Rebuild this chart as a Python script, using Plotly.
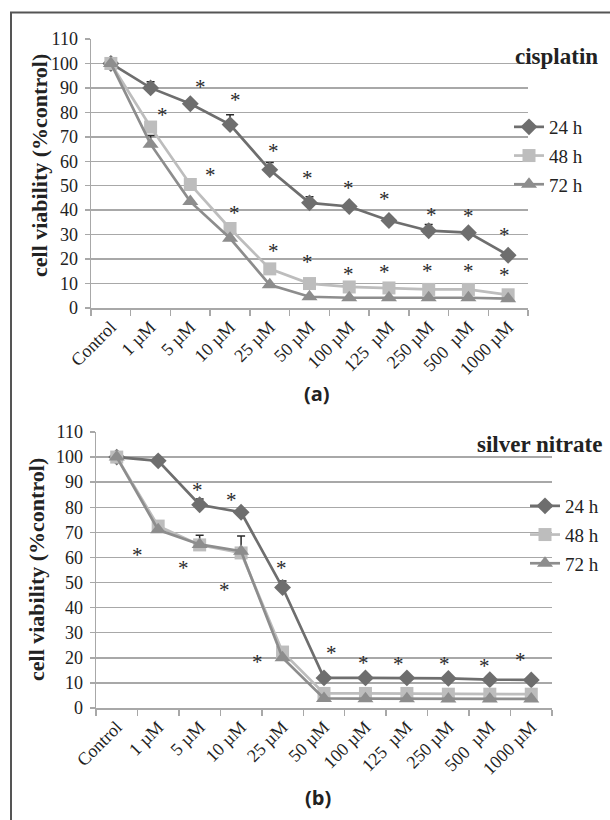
import plotly.graph_objects as go

# ---------------- data ----------------
categories = ["Control", "1 µM", "5 µM", "10 µM", "25 µM", "50 µM", "100 µM",
              "125\u00a0 µM", "250 µM", "500\u00a0 µM", "1000 µM"]
series_names = ["24 h", "48 h", "72 h"]

# panel (a) cisplatin
cis_24 = [100, 90, 83.5, 75, 56.5, 43, 41.5, 35.8, 31.6, 30.8, 21.6]
cis_48 = [100, 74, 50.5, 32.5, 16, 10, 8.6, 8.2, 7.6, 7.6, 5.4]
cis_72 = [100, 67, 43.5, 28.5, 9.5, 4.6, 4.2, 4.2, 4.2, 4.2, 3.8]
cis_24_err = [0, 2.5, 0.5, 4, 3, 2.5, 1, 0.5, 2.5, 1, 1]
cis_48_err = [0, 0, 0, 0, 0, 0, 0, 0, 0, 0, 0]
cis_72_err = [0, 3.5, 0, 0, 0, 0, 0, 0, 0, 0, 0]
cis_star_x = [1.31, 2.25, 3.14, 2.52, 4.09, 3.11, 4.95, 4.09, 5.98, 4.94,
              6.88, 5.98, 6.88, 8.08, 7.96, 8.99, 8.99, 9.9, 9.92]
cis_star_y = [81, 92.6, 87.1, 56.5, 66.3, 40.8, 55.1, 25.2, 51.3, 20.7,
              46.7, 15.9, 16.6, 39.9, 17, 39.5, 17, 31.7, 15.4]

# panel (b) silver nitrate
ag_24 = [100, 98.5, 81, 78, 48, 12, 12, 12, 11.8, 11.3, 11.2]
ag_48 = [100, 72.5, 65, 61.8, 22.3, 5.8, 5.8, 5.8, 5.5, 5.5, 5.5]
ag_72 = [100, 71, 65.2, 62.5, 20, 3.8, 3.7, 3.7, 3.6, 3.6, 3.6]
ag_24_err = [0, 0.5, 2.3, 0.5, 2.6, 0.5, 0, 0, 0, 0, 0]
ag_48_err = [0, 0.5, 3.8, 6.8, 0.5, 0, 0, 0, 0, 0, 0]
ag_72_err = [0, 0, 0, 0, 0, 0, 0, 0, 0, 0, 0]
ag_star_x = [0.49, 1.95, 1.62, 2.78, 2.59, 3.98, 3.40, 5.18, 5.96, 6.79, 7.9, 8.86, 9.74]
ag_star_y = [62.8, 88.7, 57.9, 84.8, 48.9, 57.9, 20.3, 23.9, 19.9, 19.4, 19.4, 18.7, 21]

y_ticks = [0, 10, 20, 30, 40, 50, 60, 70, 80, 90, 100, 110]

# ---------------- styling ----------------
W, H = 610, 820
SERIF = "Liberation Serif"
TXT = "#222222"
GRID = "#a8a8a8"
styles = {
    "24 h": dict(color="#6e6e6e", symbol="diamond", size=13),
    "48 h": dict(color="#bdbdbd", symbol="square", size=13),
    "72 h": dict(color="#8d8d8d", symbol="triangle-up", size=14),
}

x_idx = list(range(len(categories)))

fig = go.Figure()
star_annotations = []


def add_panel(row, vals, errs, star_x, star_y, legend_name):
    xa = "x" if row == 1 else "x2"
    ya = "y" if row == 1 else "y2"
    for name, v, e in zip(series_names, vals, errs):
        st = styles[name]
        fig.add_trace(go.Scatter(
            x=x_idx, y=v, name=name, mode="lines+markers",
            xaxis=xa, yaxis=ya, legend=legend_name, legendgroup=name + legend_name,
            line=dict(color=st["color"], width=2.7),
            marker=dict(color=st["color"], symbol=st["symbol"], size=st["size"],
                        line=dict(width=0)),
            error_y=dict(type="data", symmetric=False, array=e,
                         arrayminus=[0] * len(e), color="#2a2a2a",
                         thickness=1.5, width=4),
            hoverinfo="skip",
        ))
    for sx, sy in zip(star_x, star_y):
        star_annotations.append(dict(
            x=sx, y=sy, xref=xa, yref=ya, text="*", showarrow=False,
            xanchor="center", yanchor="middle", yshift=-5,
            font=dict(family=SERIF, size=21, color="#2a2a2a"),
        ))


add_panel(1, [cis_24, cis_48, cis_72], [cis_24_err, cis_48_err, cis_72_err],
          cis_star_x, cis_star_y, "legend")
add_panel(2, [ag_24, ag_48, ag_72], [ag_24_err, ag_48_err, ag_72_err],
          ag_star_x, ag_star_y, "legend2")


def px_x(p):
    return p / W


def px_y(p):
    return 1 - p / H


def xaxis_cfg(x0, x1):
    return dict(
        domain=[px_x(x0), px_x(x1)], range=[-0.5, len(categories) - 0.5],
        tickmode="array", tickvals=x_idx, ticktext=categories, tickangle=-45,
        ticks="", showgrid=False, zeroline=False,
        showline=True, linecolor=GRID, linewidth=1.5,
        minor=dict(tickmode="linear", tick0=-0.5, dtick=1, ticks="outside",
                   ticklen=6, tickcolor=GRID, tickwidth=1.5, showgrid=False),
        tickfont=dict(family=SERIF, size=18, color=TXT),
        automargin=False, fixedrange=True,
    )


def yaxis_cfg(y0, y1):
    return dict(
        domain=[px_y(y1), px_y(y0)], range=[0, 110],
        tickmode="array", tickvals=y_ticks,
        ticks="outside", ticklen=5, tickcolor=GRID, tickwidth=1.5,
        ticklabelstandoff=3,
        showgrid=True, gridcolor=GRID, gridwidth=1.5, zeroline=False,
        showline=True, linecolor=GRID, linewidth=1.5,
        tickfont=dict(family=SERIF, size=18, color=TXT),
        automargin=False, fixedrange=True,
    )


legend_common = dict(
    bgcolor="rgba(0,0,0,0)", font=dict(family=SERIF, size=19, color=TXT),
    xanchor="left", yanchor="middle", traceorder="grouped",
    tracegroupgap=1, itemwidth=30,
)

fig.update_layout(
    width=W, height=H,
    margin=dict(l=0, r=0, t=0, b=0),
    paper_bgcolor="white", plot_bgcolor="white",
    xaxis=dict(**xaxis_cfg(91, 528), anchor="y"),
    yaxis=dict(**yaxis_cfg(39, 308), anchor="x"),
    xaxis2=dict(**xaxis_cfg(96, 552), anchor="y2"),
    yaxis2=dict(**yaxis_cfg(432, 708), anchor="x2"),
    legend=dict(**legend_common, x=px_x(509), y=px_y(156)),
    legend2=dict(**legend_common, x=px_x(525), y=px_y(535)),
    showlegend=True,
)

annotations = [
    dict(text="<b>cell viability (%control)</b>", x=px_x(40), y=px_y(166),
         textangle=-90, font=dict(family=SERIF, size=22, color=TXT)),
    dict(text="<b>cell viability (%control)</b>", x=px_x(36), y=px_y(570),
         textangle=-90, font=dict(family=SERIF, size=22, color=TXT)),
    dict(text="<b>cisplatin</b>", x=px_x(600), y=px_y(56), xanchor="right",
         font=dict(family=SERIF, size=23, color=TXT)),
    dict(text="<b>silver nitrate</b>", x=px_x(604), y=px_y(444), xanchor="right",
         font=dict(family=SERIF, size=23, color=TXT)),
    dict(text="<b>(a)</b>", x=px_x(317), y=px_y(393),
         font=dict(family="Open Sans", size=20, color=TXT)),
    dict(text="<b>(b)</b>", x=px_x(318), y=px_y(797),
         font=dict(family="Open Sans", size=20, color=TXT)),
]
for a in annotations:
    a.update(xref="paper", yref="paper", showarrow=False, yanchor="middle")
    a.setdefault("xanchor", "center")
fig.update_layout(annotations=annotations + star_annotations)

fig.update_layout(shapes=[
    dict(type="line", xref="paper", yref="paper", x0=px_x(10), x1=1,
         y0=px_y(12.5), y1=px_y(12.5), line=dict(color="#555555", width=2)),
    dict(type="line", xref="paper", yref="paper", x0=px_x(11), x1=px_x(11),
         y0=px_y(12), y1=0, line=dict(color="#555555", width=2)),
])

fig.write_html("out.html",
               config=dict(displayModeBar=False, staticPlot=True),
               post_script="document.body.style.margin='0px';"
                           "document.body.style.padding='0px';")
